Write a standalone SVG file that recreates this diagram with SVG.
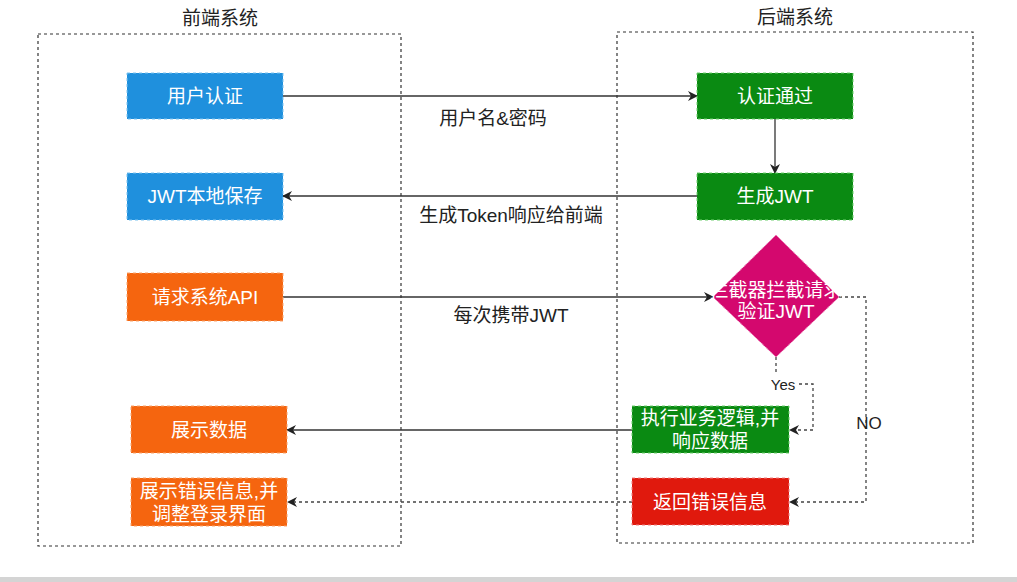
<svg xmlns="http://www.w3.org/2000/svg" width="1017" height="582" viewBox="0 0 1017 582">
<defs>
<marker id="arr" viewBox="0 0 10 10" refX="9" refY="5" markerWidth="10" markerHeight="10" markerUnits="userSpaceOnUse" orient="auto">
<path d="M0,0 L10,5 L0,10 L3,5 z" fill="#222"/>
</marker>
<style>
text{font-family:"Liberation Sans","Noto Sans CJK SC",sans-serif;font-size:19px;text-anchor:middle;dominant-baseline:central}
.w{fill:#fff}
.k{fill:#222}
.cont{fill:none;stroke:#333;stroke-width:1.2;stroke-dasharray:3 3}
.ln{fill:none;stroke:#333;stroke-width:1.3;marker-end:url(#arr)}
.dl{fill:none;stroke:#444;stroke-width:1.3;stroke-dasharray:3 3}
.blue{fill:#1f90dd;stroke:#7cc3f0;stroke-dasharray:3 3}
.green{fill:#0a8a12;stroke:#6fd06f;stroke-dasharray:3 3}
.orange{fill:#f5650f;stroke:#f9a56e;stroke-dasharray:3 3}
.red{fill:#e0190d;stroke:#f08080;stroke-dasharray:3 3}
.mag{fill:#d4086e;stroke:#ee7ab4;stroke-dasharray:3 3}
</style>
</defs>
<rect x="0" y="0" width="1017" height="582" fill="#fff"/>
<rect x="0" y="577" width="1017" height="5" fill="#d4d4d4"/>

<g id="frontend">
<rect class="cont" x="38" y="34" width="363" height="512"/>
<text class="k" x="220" y="18">前端系统</text>
</g>
<g id="backend">
<rect class="cont" x="617" y="32" width="356" height="511"/>
<text class="k" x="795" y="17">后端系统</text>
</g>

<g id="connectors">
<line class="ln" x1="283" y1="96" x2="697" y2="96"/>
<line class="ln" x1="775" y1="119" x2="775" y2="173"/>
<line class="ln" x1="697" y1="196" x2="283" y2="196"/>
<line class="ln" x1="283" y1="297" x2="713" y2="297"/>
<line class="ln" x1="632" y1="430" x2="287" y2="430"/>
<line class="dl" x1="632" y1="502" x2="290" y2="502"/>
<path d="M287,502 L297,497 L294,502 L297,507 z" fill="#222"/>
<polyline class="dl" points="776,357 776,374"/>
<polyline class="dl" points="799,384 813,384 813,430 793,430"/>
<path d="M789,430 L799,425 L796,430 L799,435 z" fill="#222"/>
<polyline class="dl" points="839,297 866,297 866,502 793,502"/>
<path d="M789,502 L799,497 L796,502 L799,507 z" fill="#222"/>
<text class="k" x="493" y="118">用户名&amp;密码</text>
<text class="k" x="511" y="215">生成Token响应给前端</text>
<text class="k" x="511" y="315">每次携带JWT</text>
<text class="k" x="783" y="384" style="font-size:15px">Yes</text>
<text class="k" x="869" y="423" style="font-size:17px">NO</text>
</g>

<g id="n-auth">
<rect class="blue" x="127" y="73" width="156" height="46"/>
<text class="w" x="205" y="96">用户认证</text>
</g>
<g id="n-save">
<rect class="blue" x="127" y="173" width="156" height="47"/>
<text class="w" x="205" y="196">JWT本地保存</text>
</g>
<g id="n-req">
<rect class="orange" x="127" y="273" width="156" height="48"/>
<text class="w" x="205" y="297">请求系统API</text>
</g>
<g id="n-show">
<rect class="orange" x="131" y="406" width="156" height="47"/>
<text class="w" x="209" y="430">展示数据</text>
</g>
<g id="n-showerr">
<rect class="orange" x="131" y="478" width="156" height="48"/>
<text class="w" x="209" y="491">展示错误信息,并</text>
<text class="w" x="209" y="514">调整登录界面</text>
</g>
<g id="n-pass">
<rect class="green" x="697" y="73" width="156" height="46"/>
<text class="w" x="775" y="96">认证通过</text>
</g>
<g id="n-gen">
<rect class="green" x="697" y="173" width="156" height="47"/>
<text class="w" x="775" y="196">生成JWT</text>
</g>
<g id="n-check">
<polygon class="mag" points="776,235 839,297 776,357 713,297"/>
<text class="w" x="776" y="290">拦截器拦截请求</text>
<text class="w" x="776" y="311">验证JWT</text>
</g>
<g id="n-exec">
<rect class="green" x="632" y="406" width="157" height="47"/>
<text class="w" x="710" y="418">执行业务逻辑,并</text>
<text class="w" x="710" y="441">响应数据</text>
</g>
<g id="n-err">
<rect class="red" x="632" y="478" width="157" height="47"/>
<text class="w" x="710" y="502">返回错误信息</text>
</g>
</svg>
